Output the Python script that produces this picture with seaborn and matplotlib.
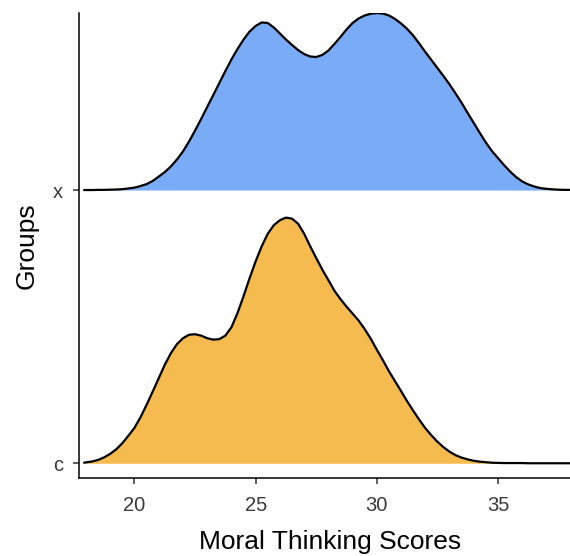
import numpy as np
import pandas as pd
import matplotlib
matplotlib.use("Agg")
import matplotlib.pyplot as plt
import seaborn as sns

# Groups from bottom to top and their fill colours
groups = ["c", "x"]
fill_colors = {"c": "#F6BB4E", "x": "#7AABF7"}

# Scores at which the densities are tabulated: the lowest observed score,
# then a quarter-point grid up to 38
score_start = 17.92
score_grid = np.arange(18.0, 38.01, 0.25)

# Estimated density (% per score point) of group x
x_density = [0.00,
             0.00, 0.00, 0.01, 0.01, 0.02, 0.03, 0.05, 0.09,   # 18.00 - 19.75
             0.14, 0.23, 0.34, 0.52, 0.77, 1.03, 1.35, 1.75,   # 20.00 - 21.75
             2.21, 2.78, 3.41, 4.07, 4.76, 5.44, 6.13, 6.82,   # 22.00 - 23.75
             7.48, 8.08, 8.62, 9.08, 9.40, 9.60, 9.57, 9.31,   # 24.00 - 25.75
             8.97, 8.62, 8.31, 8.02, 7.79, 7.65, 7.62, 7.74,   # 26.00 - 27.75
             7.99, 8.37, 8.77, 9.20, 9.57, 9.83, 10.00, 10.10,  # 28.00 - 29.75
             10.14, 10.11, 10.00, 9.80, 9.54, 9.23, 8.85, 8.39,  # 30.00 - 31.75
             7.91, 7.45, 6.99, 6.53, 6.05, 5.53, 4.99, 4.41,   # 32.00 - 33.75
             3.84, 3.27, 2.72, 2.23, 1.83, 1.43, 1.06, 0.74,   # 34.00 - 35.75
             0.49, 0.32, 0.20, 0.11, 0.07, 0.04, 0.02, 0.01,   # 36.00 - 37.75
             0.01]                                             # 38.00

# Estimated density (% per score point) of group c
c_density = [0.03,
             0.05, 0.10, 0.19, 0.34, 0.54, 0.80, 1.15, 1.58,   # 18.00 - 19.75
             2.03, 2.64, 3.35, 4.10, 4.87, 5.64, 6.30, 6.82,   # 20.00 - 21.75
             7.16, 7.36, 7.39, 7.31, 7.16, 7.08, 7.11, 7.31,   # 22.00 - 23.75
             7.79, 8.60, 9.57, 10.60, 11.57, 12.43, 13.15, 13.64,  # 24.00 - 25.75
             13.92, 14.07, 14.01, 13.72, 13.15, 12.43, 11.75, 11.09,  # 26.00 - 27.75
             10.49, 9.88, 9.40, 8.97, 8.57, 8.17, 7.68, 7.13,  # 28.00 - 29.75
             6.50, 5.90, 5.27, 4.70, 4.13, 3.55, 3.01, 2.49,   # 30.00 - 31.75
             2.01, 1.60, 1.23, 0.92, 0.66, 0.46, 0.32, 0.22,   # 32.00 - 33.75
             0.14, 0.09, 0.06, 0.03, 0.02, 0.01, 0.01, 0.01,   # 34.00 - 35.75
             0.01, 0.00, 0.00, 0.00, 0.00, 0.00, 0.00, 0.00,   # 36.00 - 37.75
             0.00]                                             # 38.00

x_ticks = [20, 25, 30, 35]
x_label = "Moral Thinking Scores"
y_label = "Groups"

# Ridge height, in units of row spacing, per 1 % of density
ridge_scale = 0.0639

scores = np.concatenate([[score_start], score_grid])
frames = []
for g, d in [("c", c_density), ("x", x_density)]:
    df = pd.DataFrame({"score": scores, "density": d})
    df["group"] = g
    df["base"] = groups.index(g)
    df["ridge"] = df["base"] + df["density"] * ridge_scale
    frames.append(df)
data = pd.concat(frames, ignore_index=True)

sns.set_theme(style="ticks")
plt.rcParams["font.family"] = ["Liberation Sans", "DejaVu Sans"]

fig = plt.figure(figsize=(5.70, 5.56), dpi=100)
ax = fig.add_axes([0.1386, 0.1403, 0.8614, 0.8363])

for g in groups:
    sub = data[data["group"] == g]
    ax.fill_between(sub["score"], sub["base"], sub["ridge"],
                    color=fill_colors[g], linewidth=0, zorder=1)
    sns.lineplot(data=sub, x="score", y="ridge", color="black",
                 linewidth=1.6, sort=True, estimator=None, ax=ax, zorder=2)

ax.set_xlim(17.71, 37.97)
ax.set_ylim(-0.054, 1.648)
ax.set_xticks(x_ticks)
ax.set_yticks(range(len(groups)))
ax.set_yticklabels(groups)

for side in ["top", "right"]:
    ax.spines[side].set_visible(False)
for side in ["left", "bottom"]:
    ax.spines[side].set_linewidth(1.1)
    ax.spines[side].set_color("black")

ax.tick_params(axis="both", length=4.3, width=1.1, color="#333333",
               labelsize=14.5, labelcolor="#3a3a3a")
ax.tick_params(axis="x", pad=9)
ax.tick_params(axis="y", pad=7)

ax.set_xlabel(x_label, fontsize=19, color="black")
ax.set_ylabel(y_label, fontsize=19, color="black")
ax.xaxis.set_label_coords(0.511, -0.112)
ax.yaxis.set_label_coords(-0.083, 0.50)

fig.savefig("out.png", dpi=100, facecolor="white")
